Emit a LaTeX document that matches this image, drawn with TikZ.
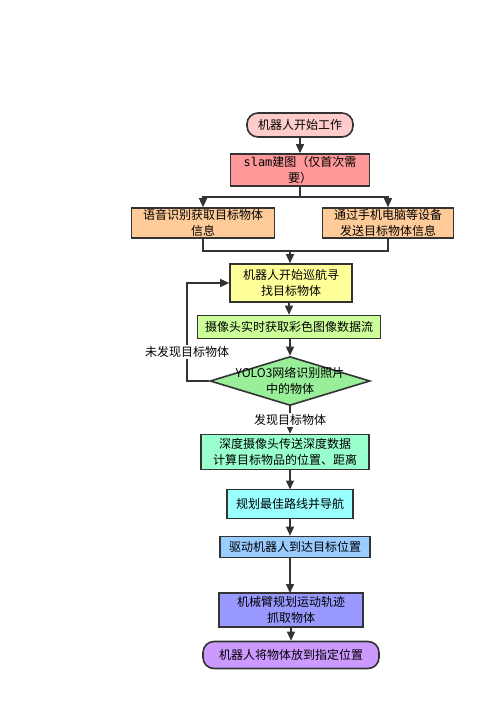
\documentclass[tikz,border=0pt]{standalone}
\usepackage{fontspec}
\setmainfont{Noto Sans CJK SC}
\newfontfamily\monofnt{DejaVu Sans Mono}
\usetikzlibrary{shapes.geometric,arrows.meta}
\definecolor{lc}{HTML}{333333}
\tikzset{
  every node/.style={font=\fontsize{12}{16}\selectfont},
  box/.style={draw=lc,line width=1.6pt,align=center,inner sep=0pt},
  rbox/.style={box,rounded corners=11pt},
  conn/.style={draw=lc,line width=1.4pt},
  arr/.style={conn,-{Triangle[length=9pt,width=8pt]}},
  lbl/.style={fill=white,inner sep=1pt},
}
\begin{document}
\begin{tikzpicture}[x=1pt,y=-1pt]
\useasboundingbox (0,0) rectangle (500,715);
\node[rbox,fill={rgb,255:red,255;green,204;blue,204},minimum width=106pt,minimum height=24pt] (start) at (300,125) {机器人开始工作};
\node[box,fill={rgb,255:red,255;green,153;blue,153},minimum width=139pt,minimum height=32pt] (slam) at (300,170) {{\monofnt slam}建图（仅首次需\\要）};
\node[box,fill={rgb,255:red,255;green,204;blue,153},minimum width=143pt,minimum height=30pt] (voice) at (203,223) {语音识别获取目标物体\\信息};
\node[box,fill={rgb,255:red,255;green,204;blue,153},minimum width=131pt,minimum height=30pt] (phone) at (388,223) {通过手机电脑等设备\\发送目标物体信息};
\node[box,fill={rgb,255:red,255;green,255;blue,153},minimum width=122pt,minimum height=38pt] (cruise) at (291,283) {机器人开始巡航寻\\找目标物体};
\node[box,fill={rgb,255:red,204;green,255;blue,153},minimum width=183pt,minimum height=23pt] (cam) at (289,327) {摄像头实时获取彩色图像数据流};
\node[diamond,draw=lc,line width=1.6pt,fill={rgb,255:red,153;green,238;blue,153},minimum width=160pt,minimum height=49pt,inner sep=0pt] (yolo) at (290,381) {};
\node[align=center,inner sep=0pt] (yolot) at (yolo) {YOLO3网络识别照片\\中的物体};
\node[box,fill={rgb,255:red,153;green,255;blue,204},minimum width=168pt,minimum height=35pt] (depth) at (285,452) {深度摄像头传送深度数据\\计算目标物品的位置、距离};
\node[box,fill={rgb,255:red,153;green,255;blue,255},minimum width=126pt,minimum height=29pt] (plan) at (290,504) {规划最佳路线并导航};
\node[box,fill={rgb,255:red,153;green,204;blue,255},minimum width=150pt,minimum height=21pt] (drive) at (295,547) {驱动机器人到达目标位置};
\node[box,fill={rgb,255:red,153;green,153;blue,255},minimum width=144pt,minimum height=34pt] (arm) at (291,610) {机械臂规划运动轨迹\\抓取物体};
\node[rbox,fill={rgb,255:red,204;green,153;blue,255},minimum width=176pt,minimum height=27pt] (final) at (291,655) {机器人将物体放到指定位置};
% connectors
\draw[arr] (start.south) -- (start.south |- slam.north);
\coordinate (split) at (300,197);
\coordinate (merge) at (290,251);
\draw[conn] (slam.south) -- (split);
\draw[arr] (split) -| (voice.north);
\draw[arr] (split) -| (phone.north);
\draw[conn] (voice.south) |- (merge) -| (phone.south);
\draw[arr] (merge) -- (merge |- cruise.north);
\draw[arr] (cruise.south -| cam.north) -- (cam.north);
\draw[arr] (290,339) -- (yolo.north);
\coordinate (loop) at (187,381);
\draw[arr] (yolo.west) -- (loop) |- (cruise.west);
\node[lbl] (nf) at (187,352) {未发现目标物体};
\draw[arr] (yolo.south) -- (yolo.south |- depth.north);
\node[lbl] (fd) at (290,420) {发现目标物体};
\draw[arr] (290,469.5) -- (290,489.5);
\draw[arr] (plan.south) -- (plan.south |- drive.north);
\draw[arr] (290,557.5) -- (290,593);
\draw[arr] (291,627) -- (final.north);
\end{tikzpicture}
\end{document}
